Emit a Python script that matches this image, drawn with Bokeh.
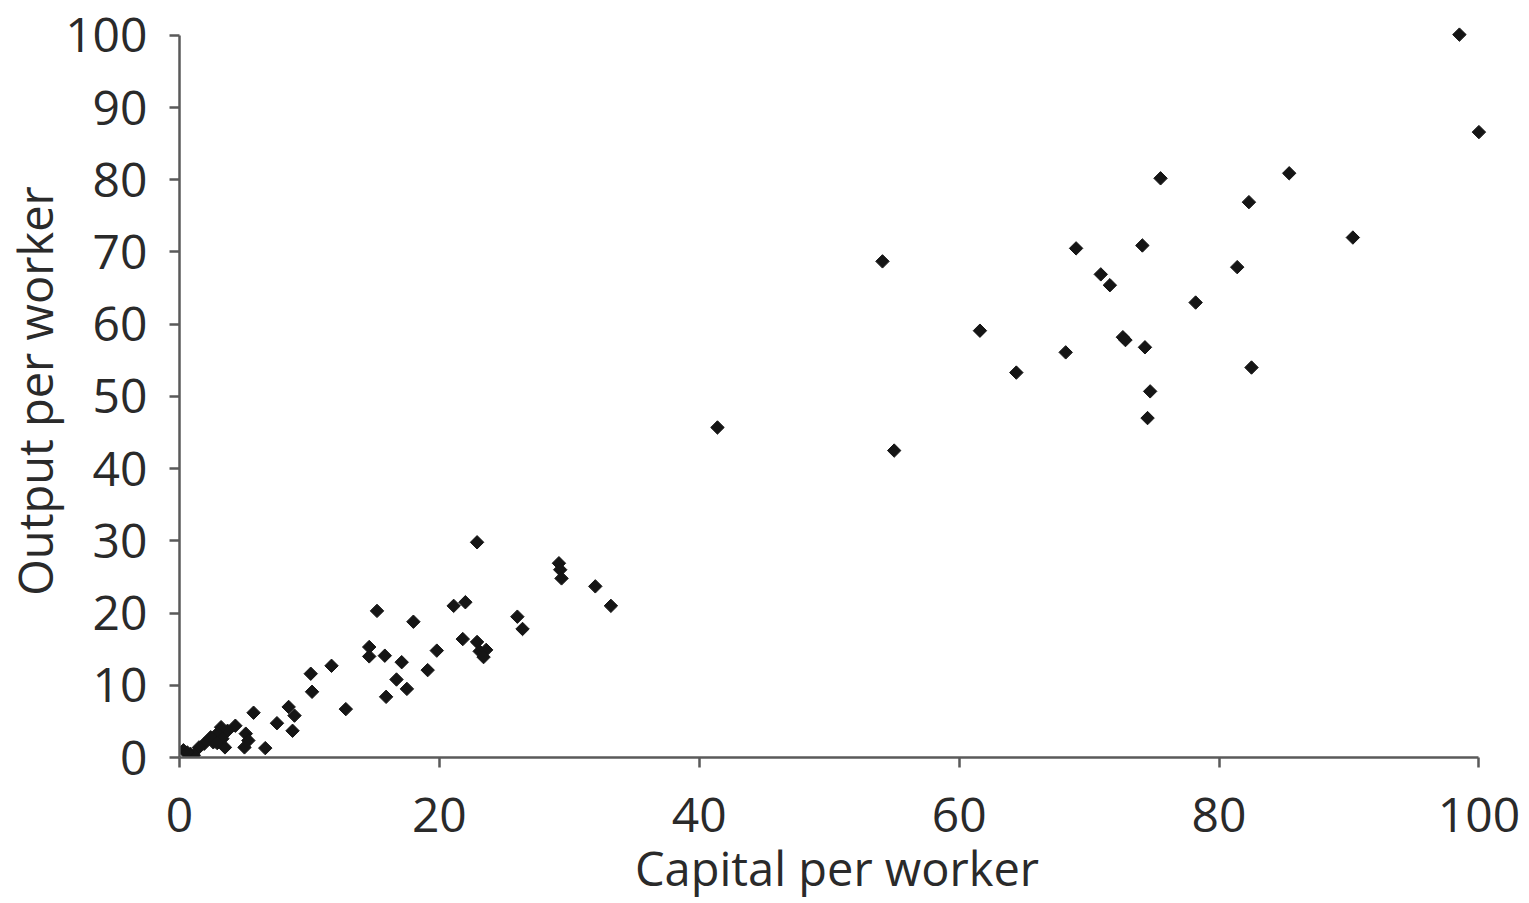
import math
from bokeh.plotting import figure
from bokeh.models import Range1d, FixedTicker, ColumnDataSource
from bokeh.embed import file_html
from bokeh.resources import INLINE

capital = [98.5, 100.0, 85.4, 75.5, 82.3, 90.3, 69.0, 74.1, 54.1, 81.4, 70.9, 71.6, 78.2,
           61.6, 72.6, 72.8, 74.3, 68.2, 64.4, 82.5, 74.7, 74.5, 55.0, 41.4,
           22.9, 29.2, 29.3, 29.4, 32.0, 33.2, 22.0, 21.1, 15.2, 18.0, 26.0, 26.4,
           14.6, 14.6, 15.8, 17.1, 19.8, 21.8, 22.9, 23.1, 23.6, 23.4, 19.1, 11.7,
           10.1, 10.2, 16.7, 17.5, 15.9, 12.8, 8.4, 8.85, 8.7, 6.6, 5.7, 7.5,
           5.1, 5.3, 5.0, 4.3, 3.7, 3.2, 2.9, 3.3, 2.6, 3.5, 1.9, 1.5, 0.85, 0.3,
           1.1, 0.6, 2.4, 2.9]
output = [100.1, 86.6, 80.9, 80.2, 76.9, 72.0, 70.5, 70.9, 68.7, 67.9, 66.9, 65.4, 63.0,
          59.1, 58.2, 57.8, 56.8, 56.1, 53.3, 54.0, 50.7, 47.0, 42.5, 45.7,
          29.8, 26.9, 26.0, 24.8, 23.7, 21.0, 21.5, 21.0, 20.3, 18.8, 19.5, 17.8,
          15.3, 14.0, 14.1, 13.2, 14.8, 16.4, 16.0, 14.7, 14.9, 13.9, 12.1, 12.7,
          11.6, 9.1, 10.8, 9.5, 8.4, 6.7, 7.0, 5.8, 3.7, 1.3, 6.2, 4.75,
          3.3, 2.35, 1.4, 4.4, 3.7, 4.2, 3.3, 2.6, 2.1, 1.4, 1.9, 1.4, 0.5, 1.0,
          0.3, 0.7, 2.8, 2.0]

x_ticks = [0, 20, 40, 60, 80, 100]
y_ticks = [0, 10, 20, 30, 40, 50, 60, 70, 80, 90, 100]

src = ColumnDataSource(data=dict(x=capital, y=output))

p = figure(width=1529, height=903, output_backend="svg", toolbar_location=None,
           x_range=Range1d(0, 101.2), y_range=Range1d(0, 101.5),
           min_border_left=179, min_border_right=35, min_border_top=24, min_border_bottom=146)
p.outline_line_color = None
p.xgrid.visible = False
p.ygrid.visible = False
p.background_fill_color = "white"

p.scatter("x", "y", source=src, marker="square", angle=math.pi / 4,
          size=9.5, color="#151515")

text_color = "#2a2a2a"
for ax in (p.xaxis[0], p.yaxis[0]):
    ax.bounds = (0, 100)
    ax.axis_line_color = "#5a5a5a"
    ax.axis_line_width = 2.5
    ax.major_tick_line_color = "#5a5a5a"
    ax.major_tick_line_width = 2.5
    ax.major_tick_out = 10
    ax.major_tick_in = 0
    ax.minor_tick_line_color = None
    ax.major_label_text_font = "Open Sans"
    ax.major_label_text_font_size = "48px"
    ax.major_label_text_color = text_color
    ax.axis_label_text_font = "Open Sans"
    ax.axis_label_text_font_size = "47px"
    ax.axis_label_text_font_style = "normal"
    ax.axis_label_text_color = text_color

p.xaxis.ticker = FixedTicker(ticks=x_ticks)
p.yaxis.ticker = FixedTicker(ticks=y_ticks)
p.xaxis.axis_label = "Capital per worker"
p.yaxis.axis_label = "Output per worker"
p.xaxis.major_label_standoff = 30
p.yaxis.major_label_standoff = 22
p.xaxis.axis_label_standoff = 1
p.yaxis.axis_label_standoff = -5

open("out.html", "w").write(file_html(p, INLINE))
